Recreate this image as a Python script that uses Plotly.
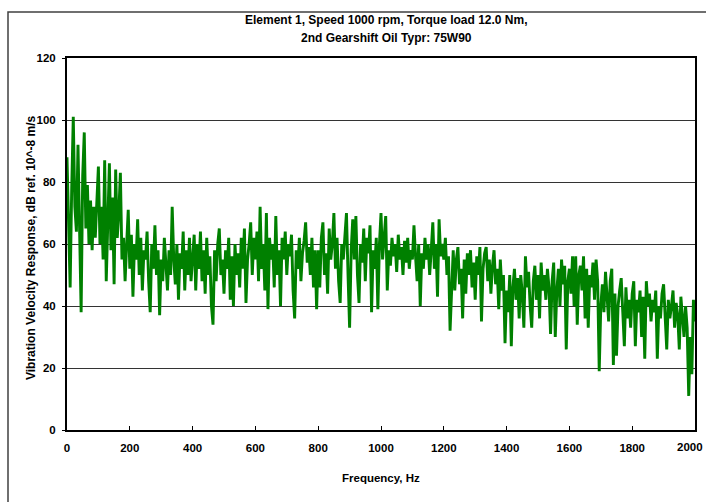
import plotly.graph_objects as go

# Frequency step of 5 Hz, 0..2000 Hz
freq_step_hz = 5
freq_start_hz = 0

# Response values (dB ref. 10^-8 m/s), one row per 100 Hz
resp_0000 = [88, 62, 46, 78, 101, 72, 64, 92, 70, 38, 82, 96, 65, 79, 60, 74, 58, 72, 62, 76]
resp_0100 = [85, 60, 72, 55, 87, 48, 70, 86, 58, 75, 47, 84, 62, 70, 83, 55, 62, 48, 60, 71]
resp_0200 = [52, 63, 43, 60, 55, 68, 50, 62, 45, 58, 55, 64, 48, 38, 60, 52, 66, 50, 58, 37]
resp_0300 = [55, 48, 62, 53, 45, 58, 50, 72, 55, 47, 60, 42, 57, 52, 64, 45, 58, 50, 62, 48]
resp_0400 = [55, 63, 45, 60, 52, 64, 48, 58, 44, 62, 50, 56, 40, 34, 58, 48, 60, 65, 50, 55]
resp_0500 = [44, 58, 52, 62, 42, 56, 40, 60, 50, 57, 46, 62, 52, 65, 41, 55, 60, 67, 50, 62]
resp_0600 = [55, 64, 48, 72, 52, 60, 45, 70, 39, 62, 55, 60, 46, 69, 50, 58, 40, 62, 55, 64]
resp_0700 = [50, 60, 56, 63, 45, 36, 58, 52, 62, 48, 57, 61, 67, 54, 59, 50, 62, 46, 58, 39]
resp_0800 = [58, 46, 62, 67, 50, 57, 44, 65, 55, 60, 70, 52, 62, 48, 41, 60, 55, 63, 70, 50]
resp_0900 = [33, 58, 68, 55, 69, 50, 41, 60, 54, 65, 48, 62, 57, 66, 38, 58, 52, 62, 39, 60]
resp_1000 = [70, 55, 62, 69, 45, 58, 53, 62, 56, 60, 51, 63, 55, 59, 50, 61, 54, 62, 52, 58]
resp_1100 = [55, 66, 56, 48, 60, 40, 57, 52, 62, 55, 60, 50, 58, 67, 52, 60, 43, 68, 56, 60]
resp_1200 = [55, 62, 50, 56, 32, 48, 58, 45, 55, 59, 47, 52, 36, 55, 44, 57, 50, 58, 46, 54]
resp_1300 = [42, 56, 50, 59, 35, 52, 57, 59, 48, 55, 44, 53, 58, 47, 52, 39, 55, 45, 50, 28]
resp_1400 = [45, 38, 50, 27, 46, 52, 42, 49, 36, 50, 44, 33, 56, 46, 51, 40, 33, 48, 53, 42]
resp_1500 = [50, 36, 54, 45, 50, 42, 52, 46, 31, 48, 54, 30, 45, 52, 40, 55, 47, 53, 26, 48]
resp_1600 = [52, 44, 56, 40, 56, 34, 50, 53, 45, 56, 36, 52, 33, 50, 46, 54, 42, 55, 48, 19]
resp_1700 = [40, 47, 38, 51, 43, 35, 48, 52, 21, 44, 24, 40, 45, 49, 38, 27, 46, 36, 42, 33]
resp_1800 = [44, 48, 27, 42, 38, 45, 30, 43, 23, 48, 40, 44, 35, 42, 38, 45, 23, 40, 36, 44]
resp_1900 = [47, 38, 26, 42, 36, 40, 45, 33, 41, 37, 26, 43, 35, 30, 40, 33, 11, 30, 18, 42]
resp_2000 = [35]

response = (resp_0000 + resp_0100 + resp_0200 + resp_0300 + resp_0400 + resp_0500 +
            resp_0600 + resp_0700 + resp_0800 + resp_0900 + resp_1000 + resp_1100 +
            resp_1200 + resp_1300 + resp_1400 + resp_1500 + resp_1600 + resp_1700 +
            resp_1800 + resp_1900 + resp_2000)
frequency = [freq_start_hz + i * freq_step_hz for i in range(len(response))]

x_ticks = [0, 200, 400, 600, 800, 1000, 1200, 1400, 1600, 1800, 2000]
y_ticks = [0, 20, 40, 60, 80, 100, 120]

title_line1 = "Element 1, Speed 1000 rpm, Torque load 12.0 Nm,"
title_line2 = "2nd Gearshift Oil Typr: 75W90"
x_title = "Frequency, Hz"
y_title = "Vibration Velocity Response, dB ref. 10^-8 m/s"

W, H = 706, 502
L, R, T, B = 67, 11, 58, 72
pw, ph = W - L - R, H - T - B

def px(x):
    return (x - L) / pw

def py(y):
    return (H - B - y) / ph

font = "Liberation Sans, Arial, sans-serif"
tick_font = dict(family=font, size=11.5, color="black", weight="bold")

fig = go.Figure()
fig.add_trace(go.Scatter(x=frequency, y=response, mode="lines",
                         line=dict(color="#008000", width=2.9), hoverinfo="skip"))

fig.update_layout(
    width=W, height=H,
    margin=dict(l=L, r=R, t=T, b=B, autoexpand=False),
    paper_bgcolor="white", plot_bgcolor="white",
    showlegend=False,
    font=dict(family=font, size=12, color="black"),
    xaxis=dict(range=[0, 2000], tickvals=x_ticks, ticktext=[str(v) for v in x_ticks],
               automargin=False, ticklabelstandoff=6,
               showgrid=False, zeroline=False, showline=True, linecolor="black",
               linewidth=2, mirror=True, ticks="inside", ticklen=4, tickcolor="black",
               tickfont=tick_font),
    yaxis=dict(range=[0, 120], tickvals=y_ticks, ticktext=[str(v) for v in y_ticks],
               automargin=False,
               showgrid=True, gridcolor="#333333", gridwidth=1, zeroline=False,
               showline=True, linecolor="black", linewidth=2, mirror=True,
               ticks="outside", ticklen=3, tickcolor="black", ticklabelstandoff=4,
               tickfont=tick_font),
)

# last x tick label, kept inside the page edge
fig.add_annotation(text=str(x_ticks[-1]), xref="paper", yref="paper", x=px(705), y=py(447),
                   showarrow=False, font=tick_font, xanchor="right", yanchor="middle")

ann_font = dict(family=font, size=12, color="black", weight="bold")
fig.add_annotation(text=title_line1, xref="paper", yref="paper", x=px(386), y=py(20),
                   showarrow=False, font=ann_font, xanchor="center", yanchor="middle")
fig.add_annotation(text=title_line2, xref="paper", yref="paper", x=px(386), y=py(38),
                   showarrow=False, font=ann_font, xanchor="center", yanchor="middle")
fig.add_annotation(text=x_title, xref="paper", yref="paper", x=px(381), y=py(478),
                   showarrow=False, font=dict(family=font, size=11.5, color="black", weight="bold"),
                   xanchor="center", yanchor="middle")
fig.add_annotation(text=y_title, xref="paper", yref="paper", x=px(31), y=py(248),
                   showarrow=False, font=dict(family=font, size=12, color="black", weight="bold"),
                   textangle=-90, xanchor="center", yanchor="middle")

# outer chart frame
fig.add_shape(type="rect", xref="paper", yref="paper", x0=px(8), y0=py(560), x1=px(760), y1=py(12),
              line=dict(color="#404040", width=1.5), fillcolor="rgba(0,0,0,0)", layer="below")

fig.write_html("out.html")
